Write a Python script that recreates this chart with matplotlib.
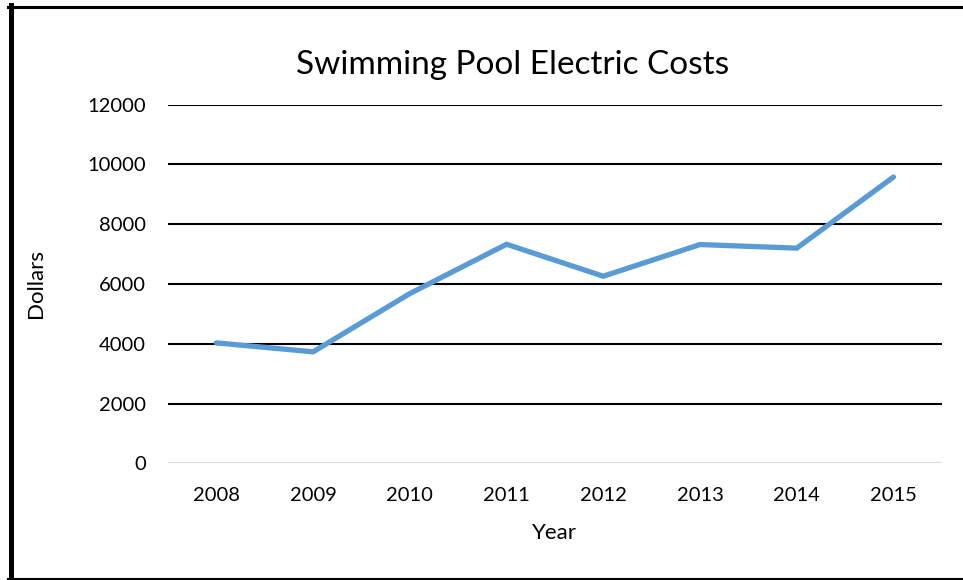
import matplotlib
matplotlib.use("Agg")
import matplotlib.pyplot as plt
from matplotlib.lines import Line2D

years = ["2008", "2009", "2010", "2011", "2012", "2013", "2014", "2015"]
costs = [4030, 3730, 5680, 7330, 6260, 7320, 7200, 9580]
yticks = [0, 2000, 4000, 6000, 8000, 10000, 12000]

plt.rcParams["font.family"] = ["Lato", "DejaVu Sans"]

W, H = 963, 580
fig = plt.figure(figsize=(W / 100, H / 100), dpi=100)
ax = fig.add_axes([0.1745, 0.2012, 0.8035, 0.6183])

for y in yticks[1:]:
    ax.axhline(y, color="black", linewidth=1.5, zorder=1)
ax.axhline(0, color="#d9d9d9", linewidth=1.5, zorder=1)

x = list(range(len(years)))
ax.plot(x, costs, color="#5b9bd5", linewidth=3.8, solid_capstyle="round",
        solid_joinstyle="miter", zorder=3)

ax.set_xlim(-0.5, len(years) - 0.5)
ax.set_ylim(0, 12000)
ax.set_xticks(x)
ax.set_xticklabels(years)
ax.set_yticks(yticks)
ax.tick_params(length=0, labelsize=14.5, colors="black")
ax.tick_params(axis="x", pad=17)
ax.tick_params(axis="y", pad=16)
for s in ax.spines.values():
    s.set_visible(False)

ax.set_xlabel("Year", fontsize=16, labelpad=14)
ax.set_ylabel("Dollars", fontsize=16, labelpad=30)
fig.text(0.532, 0.888, "Swimming Pool Electric Costs", fontsize=24,
         ha="center", va="center")

# page border (left, top, bottom only)
fig.add_artist(Line2D([10.5 / W, 10.5 / W], [0, 1 - 5 / H], transform=fig.transFigure,
                      color="black", linewidth=3.6))
fig.add_artist(Line2D([8 / W, 1], [1 - 6.5 / H, 1 - 6.5 / H], transform=fig.transFigure,
                      color="black", linewidth=2.2))
fig.add_artist(Line2D([8 / W, 1], [1.2 / H, 1.2 / H], transform=fig.transFigure,
                      color="black", linewidth=1.5))

fig.savefig("out.png", dpi=100)
